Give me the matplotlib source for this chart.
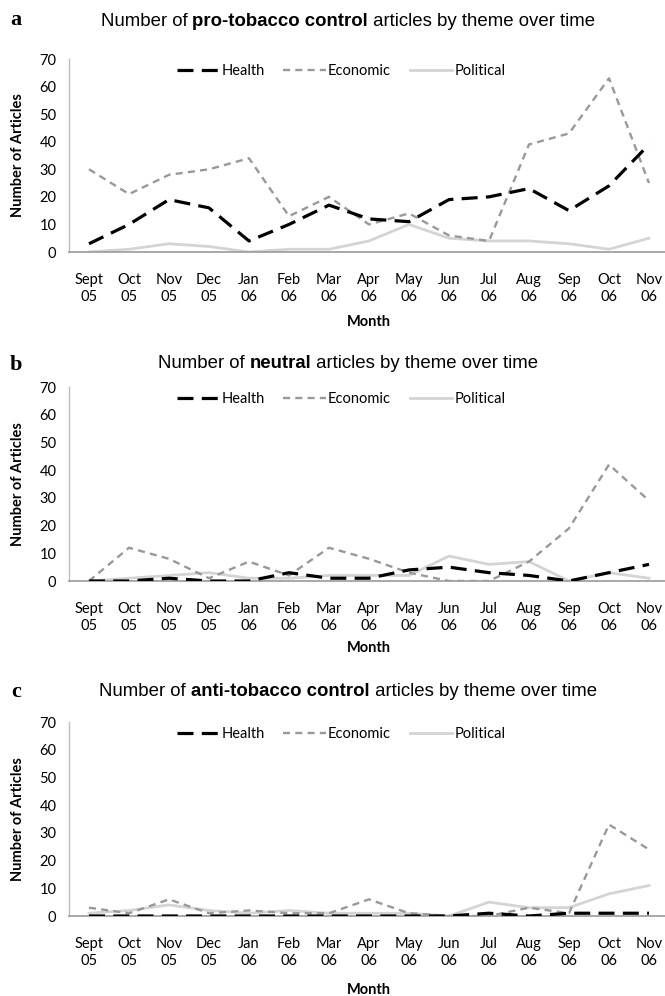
import matplotlib.pyplot as plt

# ------------------------------------------------------------
# Data
# ------------------------------------------------------------
months = ["Sept\n05", "Oct\n05", "Nov\n05", "Dec\n05", "Jan\n06", "Feb\n06", "Mar\n06",
          "Apr\n06", "May\n06", "Jun\n06", "Jul\n06", "Aug\n06", "Sep\n06", "Oct\n06", "Nov\n06"]

pro_health    = [3, 10, 19, 16, 4, 10, 17, 12, 11, 19, 20, 23, 15, 24, 39]
pro_economic  = [30, 21, 28, 30, 34, 13, 20, 10, 14, 6, 4, 39, 43, 63, 25]
pro_political = [0, 1, 3, 2, 0, 1, 1, 4, 10, 5, 4, 4, 3, 1, 5]

neu_health    = [0, 0, 1, 0, 0, 3, 1, 1, 4, 5, 3, 2, 0, 3, 6]
neu_economic  = [0, 12, 8, 1, 7, 2, 12, 8, 3, 0, 0, 7, 19, 42, 29]
neu_political = [0, 1, 2, 3, 1, 1, 2, 2, 2, 9, 6, 7, 0, 3, 1]

anti_health    = [0, 0, 0, 0, 0, 0, 0, 0, 0, 0, 1, 0, 1, 1, 1]
anti_economic  = [3, 1, 6, 1, 2, 1, 1, 6, 1, 0, 0, 3, 1, 33, 24]
anti_political = [1, 2, 4, 2, 1, 2, 1, 1, 1, 0, 5, 3, 3, 8, 11]

panels = [
    ("a", "pro-tobacco control", pro_health, pro_economic, pro_political),
    ("b", "neutral", neu_health, neu_economic, neu_political),
    ("c", "anti-tobacco control", anti_health, anti_economic, anti_political),
]

# ------------------------------------------------------------
# Layout (pixel positions of the original, 665 x 996)
# ------------------------------------------------------------
W, H = 665, 996
fig = plt.figure(figsize=(W / 100, H / 100), dpi=100, facecolor="white")

tick_font = "Lato"
title_font = "Liberation Sans"

# axes top / bottom (px), title y, letter y, month label y
rows = [
    dict(top=59, bot=252, title=22, letter=20, month=322),
    dict(top=387, bot=581, title=363, letter=365, month=648),
    dict(top=722, bot=916, title=692, letter=692, month=990),
]
ax_left, ax_right = 69, 669

x = list(range(len(months)))

for (letter, word, health, econ, polit), r in zip(panels, rows):
    ax = fig.add_axes([ax_left / W, 1 - r["bot"] / H,
                       (ax_right - ax_left) / W, (r["bot"] - r["top"]) / H])

    ax.plot(x, health, color="black", lw=2.3, dashes=(5, 2.6),
            solid_capstyle="butt", label="Health", zorder=3)
    ax.plot(x, econ, color="#999999", lw=1.7, dashes=(3, 2.2),
            label="Economic", zorder=2)
    ax.plot(x, polit, color="#d4d4d4", lw=2.0, label="Political", zorder=1)

    ax.set_xlim(-0.5, len(months) - 0.5)
    ax.set_ylim(0, 70)
    ax.set_yticks(range(0, 71, 10))
    ax.set_xticks(x)
    ax.set_xticklabels(months, fontfamily=tick_font, fontsize=10.5, linespacing=1.25)
    for t in ax.get_yticklabels():
        t.set_fontfamily(tick_font)
        t.set_fontsize(10.5)
    ax.tick_params(axis="both", length=0)
    ax.tick_params(axis="x", pad=15)
    ax.tick_params(axis="y", pad=9)

    for s in ["top", "right"]:
        ax.spines[s].set_visible(False)
    ax.spines["left"].set_color("#bdbdbd")
    ax.spines["bottom"].set_color("#9a9a9a")
    ax.spines["left"].set_linewidth(1.0)
    ax.spines["bottom"].set_linewidth(1.2)

    ax.legend(loc="upper center", bbox_to_anchor=((341 - ax_left) / (ax_right - ax_left), 1.04),
              ncol=3, frameon=False, handlelength=2.9, handletextpad=0.15,
              columnspacing=1.3, prop={"family": tick_font, "size": 10.5})

    # title with a bold middle part
    tx = 348 / W
    ty = 1 - r["title"] / H
    t1 = fig.text(0, ty, "Number of ", fontfamily=title_font, fontsize=13.4, va="center")
    t2 = fig.text(0, ty, word, fontfamily=title_font, fontsize=13.4, fontweight="bold", va="center")
    t3 = fig.text(0, ty, " articles by theme over time", fontfamily=title_font,
                  fontsize=13.4, va="center")
    fig.canvas.draw()
    rend = fig.canvas.get_renderer()
    w1 = t1.get_window_extent(rend).width / W
    w2 = t2.get_window_extent(rend).width / W
    w3 = t3.get_window_extent(rend).width / W
    start = tx - (w1 + w2 + w3) / 2
    t1.set_x(start)
    t2.set_x(start + w1)
    t3.set_x(start + w1 + w2)

    fig.text(16 / W, 1 - r["letter"] / H, letter, fontfamily="Liberation Serif",
             fontweight="bold", fontsize=16, va="center", ha="center")

    fig.text(369 / W, 1 - r["month"] / H, "Month", fontfamily=tick_font,
             fontweight="bold", fontsize=10.5, ha="center", va="center")
    fig.text(18 / W, 1 - (r["top"] + r["bot"]) / 2 / H, "Number of Articles",
             fontfamily=tick_font, fontweight="bold", fontsize=10.5,
             rotation=90, ha="center", va="center")

fig.savefig("out.png", dpi=100, facecolor="white")
